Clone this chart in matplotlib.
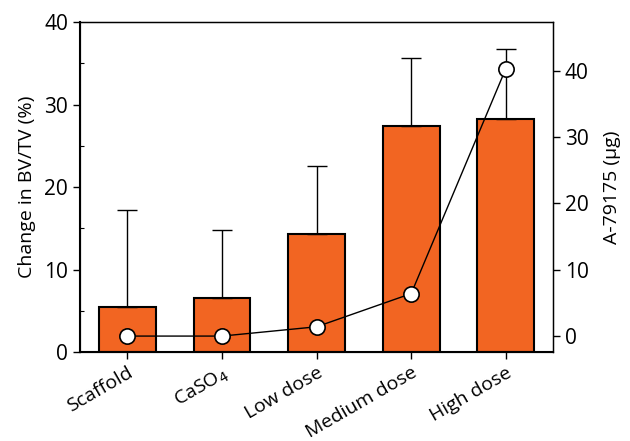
import numpy as np
import matplotlib.pyplot as plt
from matplotlib.ticker import MultipleLocator

plt.rcParams['font.family'] = ['Open Sans', 'DejaVu Sans']

groups = ['Scaffold', 'CaSO$_4$', 'Low dose', 'Medium dose', 'High dose']
bv_tv = [5.4, 6.6, 14.3, 27.4, 28.3]
bv_tv_err = [11.8, 8.2, 8.3, 8.3, 8.5]
dose = [0.0, 0.0, 1.4, 6.4, 40.3]

x = np.arange(len(groups))

fig = plt.figure(figsize=(6.3, 4.41), dpi=100)
ax = fig.add_axes([0.127, 0.2018, 0.751, 0.748])

ax.bar(x, bv_tv, width=0.6, color='#F26522', edgecolor='black', linewidth=1.5,
       yerr=[np.zeros(len(bv_tv)), bv_tv_err],
       error_kw=dict(ecolor='black', elinewidth=1, capsize=7, capthick=1), zorder=2)
ax.set_xlim(-0.5, 4.5)
ax.set_ylim(0, 40)
ax.set_yticks([0, 10, 20, 30, 40])
ax.yaxis.set_minor_locator(MultipleLocator(5))
ax.tick_params(axis='y', which='minor', direction='in', length=3, width=0.8)
ax.tick_params(axis='y', which='major', labelsize=15, length=5, width=1)
ax.tick_params(axis='x', which='major', labelsize=14, length=5, width=1)
ax.set_xticks(x)
ax.set_xticklabels(groups, rotation=30, ha='right', rotation_mode='anchor')
ax.set_ylabel('Change in BV/TV (%)', fontsize=14, labelpad=6)
for s in ['left', 'bottom']:
    ax.spines[s].set_linewidth(1.5)
for s in ['top', 'right']:
    ax.spines[s].set_linewidth(1)

ax2 = ax.twinx()
ax2.plot(x, dose, color='black', linewidth=1, marker='o', markersize=11,
         markerfacecolor='white', markeredgecolor='black', markeredgewidth=1.2, zorder=3)
ax2.set_ylim(-2.4, 47.3)
ax2.set_yticks([0, 10, 20, 30, 40])
ax2.tick_params(axis='y', labelsize=15, length=5, width=1)
ax2.set_ylabel('A-79175 (µg)', fontsize=14, labelpad=10)

fig.savefig('out.png', dpi=100)
